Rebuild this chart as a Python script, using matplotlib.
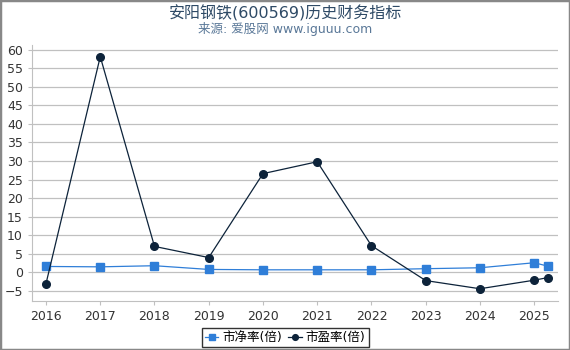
import matplotlib.pyplot as plt
from matplotlib.patches import Rectangle

plt.rcParams['font.family'] = ['DejaVu Sans', 'Noto Sans CJK SC']

# data
years = [2016, 2017, 2018, 2019, 2020, 2021, 2022, 2023, 2024, 2025, 2025.25]
pb = [1.6, 1.5, 1.8, 0.8, 0.7, 0.7, 0.7, 1.0, 1.25, 2.6, 1.7]
pe = [-3.0, 58.1, 7.0, 4.0, 26.6, 29.8, 7.2, -2.2, -4.4, -2.1, -1.4]
xticks = [2016, 2017, 2018, 2019, 2020, 2021, 2022, 2023, 2024, 2025]
yticks = list(range(-5, 61, 5))

fig = plt.figure(figsize=(5.7, 3.5), dpi=100)
ax = fig.add_axes([0.056, 0.14, 0.923, 0.731])

ax.plot(years, pb, color='#2f7ed8', marker='s', markersize=5.5, linewidth=0.9, label='市净率(倍)')
ax.plot(years, pe, color='#0d233a', marker='o', markersize=5.5, linewidth=0.9, label='市盈率(倍)')

ax.set_xlim(2015.74, 2025.44)
ax.set_ylim(-7.7, 61.2)
ax.set_xticks(xticks)
ax.set_xticklabels([str(y) for y in xticks])
ax.set_yticks(yticks)
ax.grid(axis='y', color='#c0c0c0', linewidth=0.9)
ax.set_axisbelow(True)
for s in ['top', 'right']:
    ax.spines[s].set_visible(False)
for s in ['left', 'bottom']:
    ax.spines[s].set_color('#c0c0c0')
ax.tick_params(colors='#c0c0c0', labelcolor='#333333', labelsize=9, length=3)

fig.text(0.5, 0.962, '安阳钢铁(600569)历史财务指标', ha='center', va='center',
         fontsize=11.5, color='#2e4a66')
fig.text(0.5, 0.918, '来源: 爱股网 www.iguuu.com', ha='center', va='center',
         fontsize=9, color='#5a7898')

leg = fig.legend(loc='lower center', bbox_to_anchor=(0.5, -0.01), ncol=2, fontsize=9,
                 frameon=True, fancybox=False, edgecolor='black', handlelength=1.1,
                 handletextpad=0.3, columnspacing=0.5, borderpad=0.25, markerscale=0.75)
leg.get_frame().set_linewidth(1)

fig.patches.append(Rectangle((0, 0), 1, 1, transform=fig.transFigure, fill=False,
                             edgecolor='#888888', linewidth=2.5))

fig.savefig('out.png', dpi=100)
